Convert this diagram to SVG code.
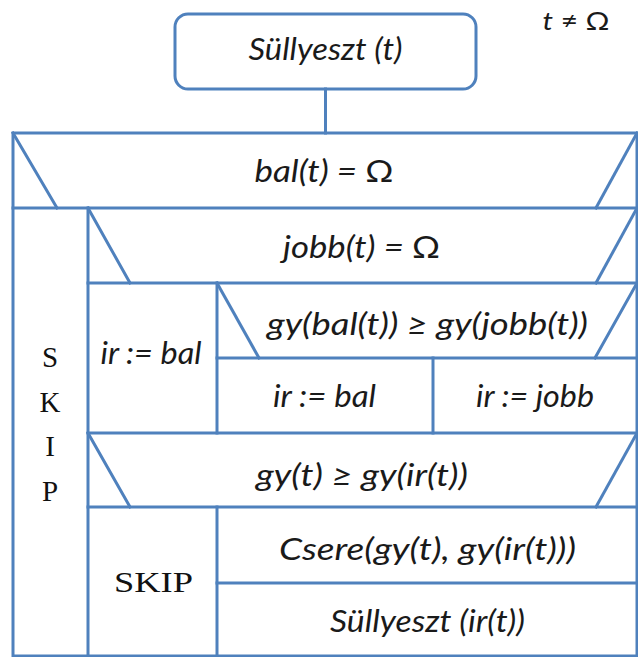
<svg xmlns="http://www.w3.org/2000/svg" width="638" height="657" viewBox="0 0 638 657">
<style>
  .ln { stroke: #4F81BD; stroke-width: 3; fill: none; stroke-linecap: square; }
  .tx { font-family: Lato, "Open Sans", "Liberation Sans", sans-serif; font-style: italic; font-size: 30px; fill: #1a1a1a; text-anchor: middle; }
  .up { font-style: normal; }
  .mono { font-family: "Liberation Serif", "DejaVu Serif", serif; font-size: 29px; fill: #111; text-anchor: middle; }
</style>
<rect width="638" height="657" fill="#ffffff"/>

<g id="start">
  <rect class="ln" x="175" y="14" width="301" height="75" rx="13" ry="13"/>
  <text class="tx" x="325.5" y="60" textLength="154" lengthAdjust="spacingAndGlyphs">Süllyeszt (t)</text>
</g>

<g id="precondition">
  <text class="tx" x="576" y="30" style="font-size:25px" textLength="67" lengthAdjust="spacingAndGlyphs">t<tspan class="up"> ≠ Ω</tspan></text>
</g>

<g id="connectors">
  <line class="ln" x1="325.5" y1="89" x2="325.5" y2="133"/>
</g>

<g id="frame">
  <rect class="ln" x="13" y="133" width="624" height="523"/>
</g>

<g id="cond-bal">
  <line class="ln" x1="13" y1="208" x2="637" y2="208"/>
  <line class="ln" x1="13" y1="133" x2="57" y2="208"/>
  <line class="ln" x1="637" y1="133" x2="596" y2="208"/>
  <text class="tx" x="324" y="182" textLength="139" lengthAdjust="spacingAndGlyphs">bal(t) = <tspan class="up">Ω</tspan></text>
</g>

<g id="skip-vertical">
  <line class="ln" x1="88" y1="208" x2="88" y2="656"/>
  <text class="mono" x="50" y="367">S</text>
  <text class="mono" x="50" y="412">K</text>
  <text class="mono" x="50" y="456">I</text>
  <text class="mono" x="50" y="501">P</text>
</g>

<g id="cond-jobb">
  <line class="ln" x1="88" y1="283" x2="637" y2="283"/>
  <line class="ln" x1="88" y1="208" x2="130" y2="283"/>
  <line class="ln" x1="637" y1="208" x2="596" y2="283"/>
  <text class="tx" x="361.5" y="258" textLength="157" lengthAdjust="spacingAndGlyphs">jobb(t) = <tspan class="up">Ω</tspan></text>
</g>

<g id="ir-bal-left">
  <line class="ln" x1="217" y1="283" x2="217" y2="433"/>
  <text class="tx" x="151" y="364" textLength="101" lengthAdjust="spacingAndGlyphs">ir := bal</text>
</g>

<g id="cond-gy">
  <line class="ln" x1="217" y1="358" x2="637" y2="358"/>
  <line class="ln" x1="217" y1="283" x2="259" y2="358"/>
  <line class="ln" x1="637" y1="283" x2="595" y2="358"/>
  <text class="tx" x="427.5" y="335" textLength="321" lengthAdjust="spacingAndGlyphs">gy(bal(t)) ≥ gy(jobb(t))</text>
</g>

<g id="ir-bal-mid">
  <line class="ln" x1="433" y1="358" x2="433" y2="433"/>
  <text class="tx" x="324.5" y="407" textLength="103" lengthAdjust="spacingAndGlyphs">ir := bal</text>
</g>

<g id="ir-jobb">
  <text class="tx" x="535" y="407" textLength="118" lengthAdjust="spacingAndGlyphs">ir := jobb</text>
</g>

<g id="cond-gy-ir">
  <line class="ln" x1="88" y1="433" x2="637" y2="433"/>
  <line class="ln" x1="88" y1="507" x2="637" y2="507"/>
  <line class="ln" x1="88" y1="433" x2="130" y2="507"/>
  <line class="ln" x1="637" y1="433" x2="596" y2="507"/>
  <text class="tx" x="362" y="486" textLength="212" lengthAdjust="spacingAndGlyphs">gy(t) ≥ gy(ir(t))</text>
</g>

<g id="skip-bottom">
  <line class="ln" x1="217" y1="507" x2="217" y2="656"/>
  <text class="mono" x="153.5" y="592" style="font-size:30px" textLength="79" lengthAdjust="spacingAndGlyphs">SKIP</text>
</g>

<g id="csere">
  <line class="ln" x1="217" y1="583" x2="637" y2="583"/>
  <text class="tx" x="427.5" y="560" textLength="297" lengthAdjust="spacingAndGlyphs">Csere(gy(t), gy(ir(t)))</text>
</g>

<g id="sullyeszt-ir">
  <text class="tx" x="427.5" y="632" textLength="195" lengthAdjust="spacingAndGlyphs">Süllyeszt (ir(t))</text>
</g>
</svg>
